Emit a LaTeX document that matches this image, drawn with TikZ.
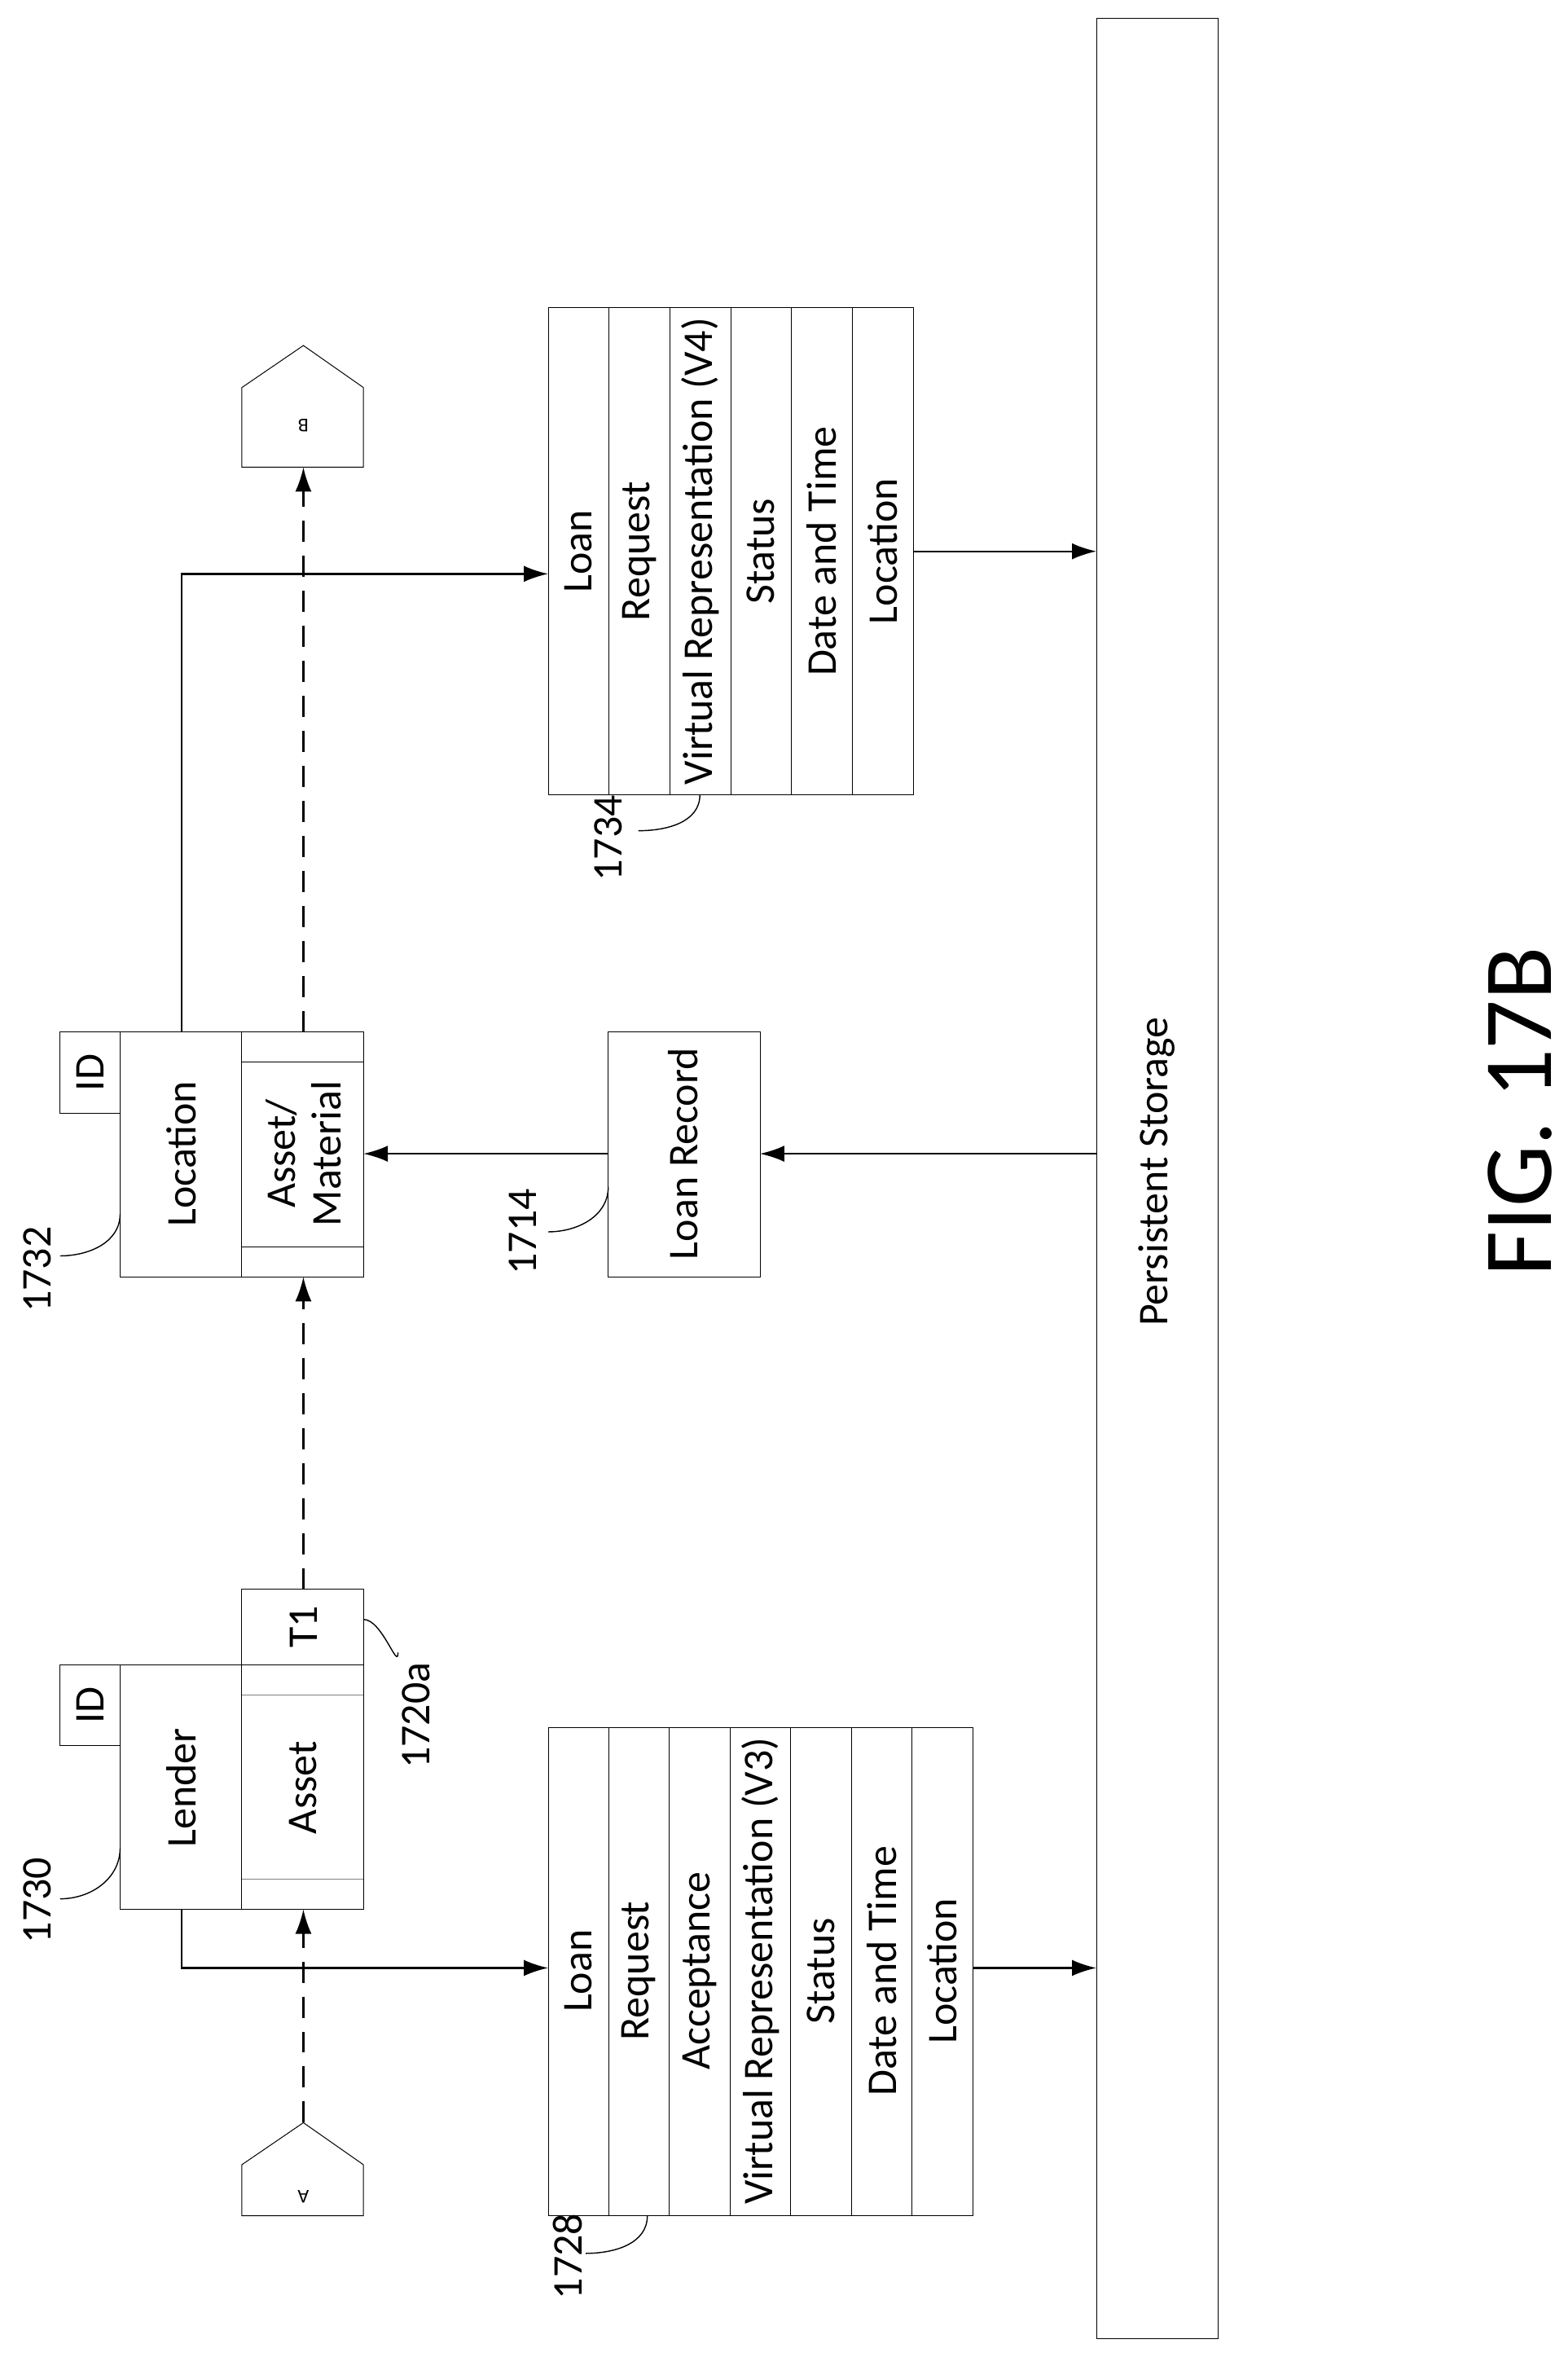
\documentclass[tikz,border=0pt]{standalone}
\usepackage{fontspec}
\setmainfont{Carlito}
\usetikzlibrary{arrows.meta}
\begin{document}
\begin{tikzpicture}[x=1.8458pt,y=-1.8458pt,
  box/.style={draw,line width=1pt},
  txt/.style={rotate=90,font=\fontsize{52}{56}\selectfont},
  lbl/.style={rotate=90,font=\fontsize{52}{56}\selectfont},
  arr/.style={line width=2.4pt,-{Latex[length=30pt,width=20pt]}},
  dsh/.style={arr,dash pattern=on 26pt off 17pt},
  lead/.style={line width=1.4pt}]
  \useasboundingbox (0,0) rectangle (1044,1569);
  % persistent storage
  \draw[box] (730,12) rectangle (811,1557);
  \node[txt] (ps) at (770,780) {Persistent Storage};
  % table 1728
  \draw[box] (365,1150) rectangle (648,1475);
  \foreach \t [count=\i] in {Loan,Request,Acceptance,Virtual Representation (V3),Status,Date and Time,Location}{
    \draw[box] ({365+40.4*(\i-1)},1150) -- ({365+40.4*(\i-1)},1475);
    \node[txt] (a\i) at ({385+40.4*(\i-1)},1312) {\t};
  }
  % table 1734
  \draw[box] (365,205) rectangle (608,529);
  \foreach \t [count=\i] in {Loan,Request,Virtual Representation (V4),Status,Date and Time,Location}{
    \draw[box] ({365+40.5*(\i-1)},205) -- ({365+40.5*(\i-1)},529);
    \node[txt] (b\i) at ({385+40.5*(\i-1)},367) {\t};
  }
  % lender 1730
  \draw[box] (80,1108) rectangle (242,1271);
  \draw[box] (161,1108) -- (161,1271);
  \draw[box] (40,1108) rectangle (80,1162);
  \draw[box] (161,1058) rectangle (242,1108);
  \draw[line width=.5pt,gray] (161,1128) -- (242,1128) (161,1251) -- (242,1251);
  \node[txt] (lender) at (121,1190) {Lender};
  \node[txt] (asset) at (202,1190) {Asset};
  \node[txt] (id1) at (60,1135) {ID};
  \node[txt] (t1) at (202,1083) {T1};
  % location 1732
  \draw[box] (80,687) rectangle (242,850);
  \draw[box] (161,687) -- (161,850);
  \draw[box] (40,687) rectangle (80,741);
  \draw[line width=.8pt] (161,707) -- (242,707) (161,830) -- (242,830);
  \node[txt] (loc) at (121,768) {Location};
  \node[txt,align=center] (am) at (202,768) {Asset/\\Material};
  \node[txt] (id2) at (60,714) {ID};
  % loan record 1714
  \draw[box] (405,687) rectangle (506,850);
  \node[txt] (lr) at (455,768) {Loan Record};
  % off-page connectors
  \draw[box] (202,1413) -- (242,1441) -- (242,1475) -- (161,1475) -- (161,1441) -- cycle;
  \node[font=\fontsize{24}{26}\selectfont,rotate=180] (A) at (202,1462) {A};
  \draw[box] (202,230) -- (242,258) -- (242,311) -- (161,311) -- (161,258) -- cycle;
  \node[font=\fontsize{24}{26}\selectfont,rotate=180] (B) at (202,283) {B};
  % connectors
  \draw[arr] (648,1310) -- (730,1310);
  \draw[arr] (608,367) -- (730,367);
  \draw[arr] (730,768) -- (506,768);
  \draw[arr] (405,768) -- (242,768);
  \draw[arr] (121,1271) -- (121,1310) -- (365,1310);
  \draw[arr] (121,687) -- (121,382) -- (365,382);
  \draw[dsh] (202,1413) -- (202,1271);
  \draw[dsh] (202,1058) -- (202,850);
  \draw[dsh] (202,687) -- (202,311);
  % reference numerals
  \draw[lead] (80,1230) to[out=-90,in=0] (40,1264);
  \node[lbl] (n1730) at (25,1265) {1730};
  \draw[lead] (80,808) to[out=-90,in=0] (40,836);
  \node[lbl] (n1732) at (25,845) {1732};
  \draw[lead] (242,1078) to[out=0,in=-90] (265,1100);
  \node[lbl] (n1720a) at (277,1142) {1720a};
  \draw[lead] (405,790) to[out=-90,in=0] (365,820);
  \node[lbl] (n1714) at (348,820) {1714};
  \draw[lead] (466,529) to[out=-90,in=0] (425,553);
  \node[lbl] (n1734) at (405,558) {1734};
  \draw[lead] (431,1475) to[out=-90,in=0] (390,1500);
  \node[lbl] (n1728) at (378,1502) {1728};
  \node[rotate=90,font=\fontsize{120}{124}\selectfont] (fig) at (1012,740) {FIG. 17B};
\end{tikzpicture}
\end{document}
